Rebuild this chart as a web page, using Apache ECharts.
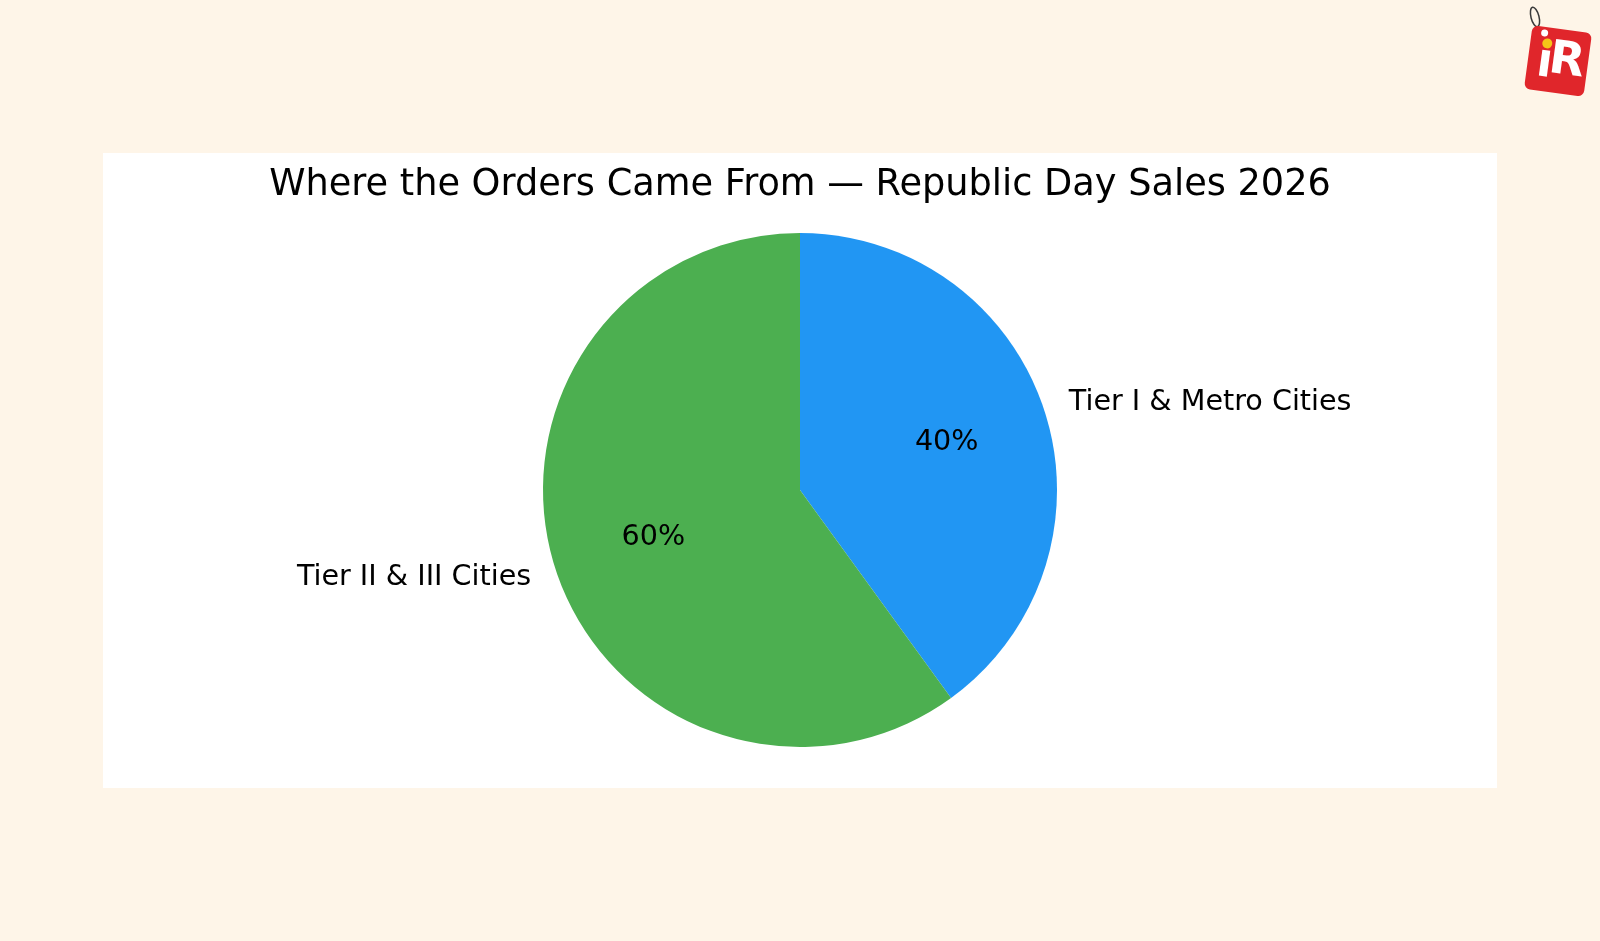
<!DOCTYPE html>
<html>
<head>
<meta charset="utf-8">
<script src="https://cdn.jsdelivr.net/npm/echarts@6/dist/echarts.min.js"></script>
<style>
  html, body { margin: 0; padding: 0; background: #FEF5E8; }
  #chart { width: 1600px; height: 941px; }
</style>
</head>
<body>
<div id="chart"></div>
<script>
const titleText = 'Where the Orders Came From — Republic Day Sales 2026';
const categories = ['Tier I & Metro Cities', 'Tier II & III Cities'];
const shares = [40, 60];
const colors = ['#2196F3', '#4CAF50'];

const FONT = 'DejaVu Sans';
const data = categories.map((c, i) => ({ name: c, value: shares[i], itemStyle: { color: colors[i] } }));
const R = 257;

const chart = echarts.init(document.getElementById('chart'), null, { renderer: 'canvas' });
chart.setOption({
  backgroundColor: '#FEF5E8',
  animation: false,
  title: {
    text: titleText,
    left: 'center',
    top: 162,
    textStyle: { fontFamily: FONT, fontSize: 36.7, fontWeight: 'normal', color: '#000' }
  },
  graphic: [
    { type: 'rect', z: -10, silent: true, shape: { x: 103, y: 153, width: 1394, height: 635 }, style: { fill: '#ffffff' } },
    { type: 'ellipse', shape: { cx: 1535, cy: 17, rx: 4, ry: 10 }, rotation: 0.25, originX: 1535, originY: 17, style: { stroke: '#3a3a3a', lineWidth: 1.5, fill: null } },
    {
      type: 'group', x: 1558, y: 61, rotation: -0.135, children: [
        { type: 'rect', shape: { x: -30, y: -32, width: 60, height: 64, r: 6 }, style: { fill: '#E0262B' } },
        { type: 'circle', shape: { cx: -17, cy: -26, r: 3.5 }, style: { fill: '#ffffff' } },
        { type: 'circle', shape: { cx: -13, cy: -16, r: 5 }, style: { fill: '#F5C518' } },
        { type: 'rect', shape: { x: -17, y: -9, width: 8, height: 26 }, style: { fill: '#ffffff' } },
        { type: 'text', style: { x: -9, y: 0, text: 'R', fontFamily: 'DejaVu Sans', fontWeight: 'bold', fontSize: 46, fill: '#ffffff', verticalAlign: 'middle', align: 'left' } }
      ]
    }
  ],
  series: [
    {
      type: 'pie',
      center: [800, 490],
      radius: [0, R],
      startAngle: 90,
      clockwise: true,
      avoidLabelOverlap: false,
      data: data,
      itemStyle: { borderWidth: 0 },
      label: {
        show: true,
        position: 'outside',
        formatter: '{b}',
        fontFamily: FONT,
        fontSize: 28.6,
        color: '#000',
        distanceToLabelLine: 0
      },
      labelLine: { show: false, length: R * 0.1, length2: 0 },
      emphasis: { disabled: true }
    },
    {
      type: 'pie',
      center: [800, 490],
      radius: [R * 0.2 - 6, R],
      startAngle: 90,
      clockwise: true,
      silent: true,
      avoidLabelOverlap: false,
      data: data.map(d => ({ name: d.name, value: d.value })),
      itemStyle: { color: 'rgba(0,0,0,0)', borderWidth: 0 },
      label: {
        show: true,
        position: 'inside',
        formatter: p => p.value + '%',
        fontFamily: FONT,
        fontSize: 28.6,
        color: '#000'
      },
      labelLine: { show: false },
      emphasis: { disabled: true }
    }
  ]
});
</script>
</body>
</html>
